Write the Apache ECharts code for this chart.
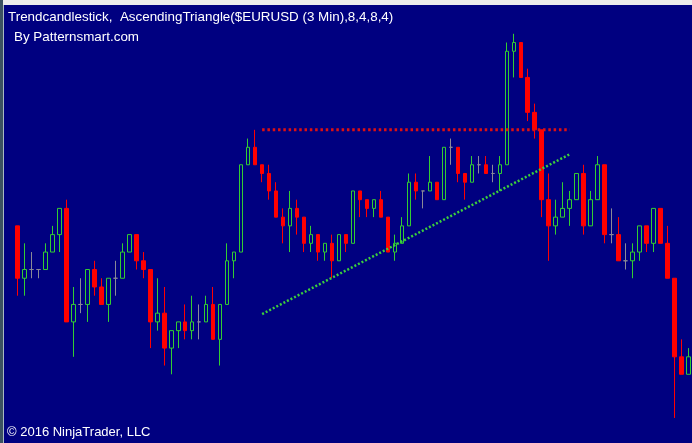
<!DOCTYPE html>
<html>
<head>
<meta charset="utf-8">
<script src="https://cdn.jsdelivr.net/npm/echarts@6/dist/echarts.min.js"></script>
<style>
  html, body { margin: 0; padding: 0; background: #000080; }
  #chart { width: 692px; height: 443px; }
</style>
</head>
<body>
<div id="chart"></div>
<script>
// ---- data (EURUSD, 3 Min bars) ----
var openPrices = [1.1222,1.1216,1.1217,1.1217,1.1217,1.1219,1.1221,1.1224,1.1211,1.1213,
  1.1213,1.1217,1.1215,1.1213,1.1216,1.1216,1.1219,1.1221,1.1218,1.1217,
  1.1211,1.1212,1.1208,1.1210,1.1211,1.1210,1.1211,1.1211,1.1213,1.1209,
  1.1213,1.1218,1.1219,1.1229,1.1231,1.1229,1.1228,1.1226,1.1223,1.1222,
  1.1224,1.1223,1.1220,1.1221,1.1219,1.1220,1.1218,1.1221,1.1220,1.1226,
  1.1225,1.1224,1.1225,1.1223,1.1219,1.1220,1.1222,1.1227,1.1226,1.1226,
  1.1227,1.1225,1.1231,1.1231,1.1228,1.1227,1.1229,1.1229,1.1228,1.1228,
  1.1229,1.1242,1.1243,1.1239,1.1235,1.1233,1.1225,1.1222,1.1223,1.1224,
  1.1225,1.1228,1.1222,1.1225,1.1229,1.1221,1.1221,1.1218,1.1218,1.1219,
  1.1222,1.1220,1.1224,1.1220,1.1216,1.1207,1.1205];
var closePrices = [1.1216,1.1217,1.1217,1.1217,1.1219,1.1221,1.1224,1.1211,1.1213,1.1213,
  1.1217,1.1215,1.1213,1.1216,1.1216,1.1219,1.1221,1.1218,1.1217,1.1211,
  1.1212,1.1208,1.1210,1.1211,1.1210,1.1211,1.1211,1.1213,1.1209,1.1213,
  1.1218,1.1219,1.1229,1.1231,1.1229,1.1228,1.1226,1.1223,1.1222,1.1224,
  1.1223,1.1220,1.1221,1.1219,1.1220,1.1218,1.1221,1.1220,1.1226,1.1225,
  1.1224,1.1225,1.1223,1.1219,1.1220,1.1222,1.1227,1.1226,1.1226,1.1227,
  1.1225,1.1231,1.1231,1.1228,1.1227,1.1229,1.1229,1.1228,1.1228,1.1229,
  1.1242,1.1243,1.1239,1.1235,1.1233,1.1225,1.1222,1.1223,1.1224,1.1225,
  1.1228,1.1222,1.1225,1.1229,1.1221,1.1221,1.1218,1.1218,1.1219,1.1222,
  1.1220,1.1224,1.1220,1.1216,1.1207,1.1205,1.1207];
var lowPrices = [1.1214,1.1214,1.1216,1.1216,1.1217,1.1219,1.1219,1.1211,1.1207,1.1212,
  1.1211,1.1214,1.1213,1.1211,1.1214,1.1216,1.1219,1.1217,1.1216,1.1208,
  1.1210,1.1206,1.1205,1.1208,1.1209,1.1209,1.1209,1.1211,1.1209,1.1206,
  1.1213,1.1216,1.1219,1.1229,1.1229,1.1227,1.1225,1.1223,1.1220,1.1219,
  1.1221,1.1219,1.1219,1.1218,1.1218,1.1216,1.1218,1.1219,1.1220,1.1223,
  1.1223,1.1223,1.1223,1.1219,1.1218,1.1220,1.1222,1.1225,1.1224,1.1226,
  1.1225,1.1225,1.1229,1.1227,1.1225,1.1227,1.1228,1.1228,1.1227,1.1226,
  1.1229,1.1239,1.1239,1.1234,1.1232,1.1223,1.1218,1.1221,1.1223,1.1222,
  1.1225,1.1221,1.1222,1.1225,1.1220,1.1220,1.1218,1.1217,1.1216,1.1218,
  1.1219,1.1219,1.1220,1.1216,1.1200,1.1205,1.1205];
var highPrices = [1.1222,1.1220,1.1219,1.1217,1.1220,1.1222,1.1224,1.1225,1.1215,1.1216,
  1.1217,1.1218,1.1216,1.1216,1.1218,1.1220,1.1221,1.1221,1.1219,1.1217,
  1.1216,1.1215,1.1210,1.1211,1.1213,1.1214,1.1213,1.1214,1.1215,1.1213,
  1.1220,1.1219,1.1229,1.1232,1.1233,1.1229,1.1229,1.1227,1.1224,1.1226,
  1.1225,1.1223,1.1222,1.1221,1.1220,1.1221,1.1221,1.1221,1.1226,1.1226,
  1.1225,1.1225,1.1226,1.1223,1.1221,1.1223,1.1228,1.1228,1.1226,1.1230,
  1.1227,1.1231,1.1232,1.1231,1.1228,1.1230,1.1230,1.1230,1.1229,1.1230,
  1.1243,1.1244,1.1243,1.1240,1.1236,1.1233,1.1228,1.1225,1.1227,1.1226,
  1.1228,1.1229,1.1226,1.1230,1.1229,1.1224,1.1223,1.1220,1.1220,1.1222,
  1.1222,1.1224,1.1224,1.1222,1.1216,1.1209,1.1208];

// triangle lines: [bar index, price]
var resistanceLine = [[35, 1.1233], [79, 1.1233]];
var supportLine = [[35, 1.12119], [79, 1.12302]];

var titleText = 'Trendcandlestick,  AscendingTriangle($EURUSD (3 Min),8,4,8,4)';
var subtitleText = 'By Patternsmart.com';
var copyrightText = '\u00a9 2016 NinjaTrader, LLC';

// ---- build ----
var categories = openPrices.map(function (_, i) { return String(i); });
var ohlc = openPrices.map(function (o, i) {
  return [o, closePrices[i], lowPrices[i], highPrices[i]];
});

var chart = echarts.init(document.getElementById('chart'), null, { renderer: 'canvas' });
var font = '"Liberation Sans", Arial, sans-serif';
var fs = '13.4px ';

chart.setOption({
  backgroundColor: '#000080',
  animation: false,
  grid: { left: 14, width: 679, top: 7.6, height: 427.8, containLabel: false },
  xAxis: {
    type: 'category', data: categories, boundaryGap: true,
    show: false
  },
  yAxis: {
    type: 'value', min: 1.1198, max: 1.1247, show: false, scale: true,
    splitLine: { show: false }
  },
  graphic: [
    { type: 'rect', shape: { x: 0, y: 0, width: 692, height: 5 }, style: { fill: '#ececec' }, silent: true },
    { type: 'rect', shape: { x: 0, y: 0, width: 3, height: 443 }, style: { fill: '#3c5262' }, silent: true },
    { type: 'rect', shape: { x: 3, y: 5, width: 1, height: 438 }, style: { fill: '#a9b9c2' }, silent: true },
    { type: 'text', x: 8, y: 11, silent: true,
      style: { text: titleText, fill: '#ffffff', font: fs + font, verticalAlign: 'top' } },
    { type: 'text', x: 14, y: 30.5, silent: true,
      style: { text: subtitleText, fill: '#ffffff', font: fs + font, verticalAlign: 'top' } },
    { type: 'text', x: 7, y: 425.8, silent: true,
      style: { text: copyrightText, fill: '#ffffff', font: '13px ' + font, verticalAlign: 'top' } }
  ],
  series: [
    {
      type: 'candlestick',
      data: ohlc,
      barWidth: 4,
      silent: true,
      itemStyle: {
        color: '#000080',
        color0: '#ff0000',
        borderColor: '#32cd32',
        borderColor0: '#ff0000',
        borderColorDoji: '#8a8a96',
        borderWidth: 1
      },
      z: 2
    },
    {
      type: 'line',
      data: resistanceLine,
      symbol: 'none',
      silent: true,
      lineStyle: { color: '#e01010', width: 3, type: [2.5, 2.8] },
      z: 5
    },
    {
      type: 'line',
      data: supportLine,
      symbol: 'none',
      silent: true,
      lineStyle: { color: '#3ccf3c', width: 2.5, type: [2, 2] },
      z: 5
    }
  ]
});
</script>
</body>
</html>
